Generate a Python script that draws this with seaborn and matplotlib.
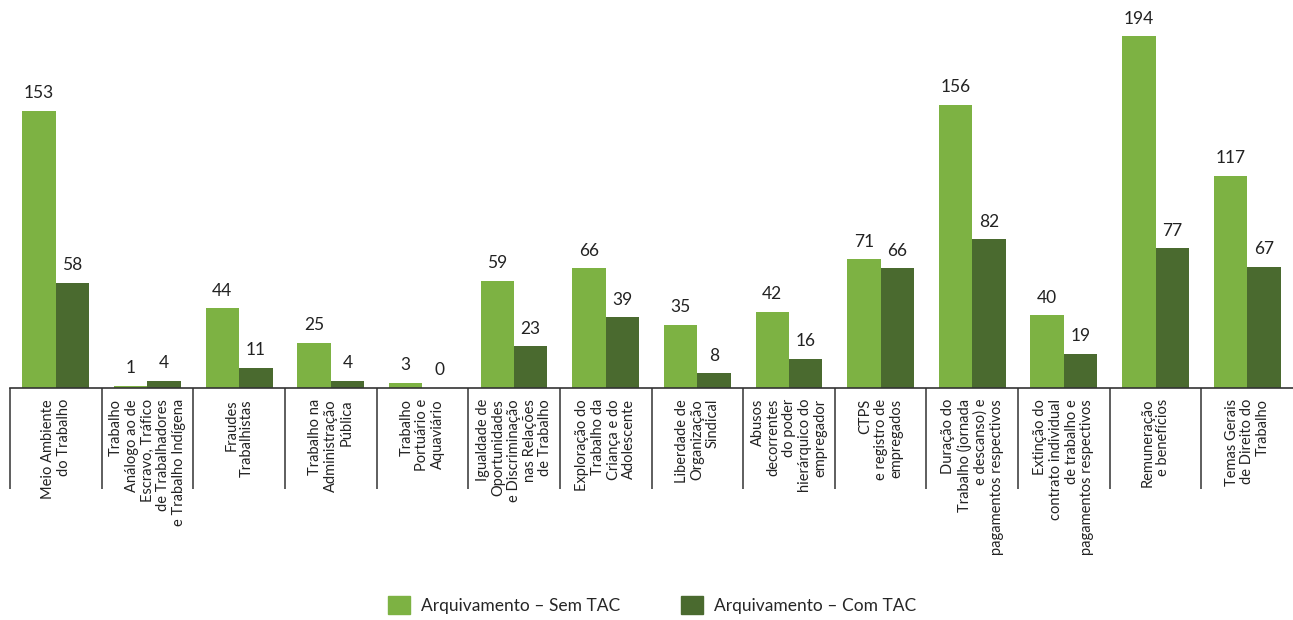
import pandas as pd
import matplotlib.pyplot as plt
import seaborn as sns

categorias = [
    "Meio Ambiente\ndo Trabalho",
    "Trabalho\nAnálogo ao de\nEscravo, Tráfico\nde Trabalhadores\ne Trabalho Indígena",
    "Fraudes\nTrabalhistas",
    "Trabalho na\nAdministração\nPública",
    "Trabalho\nPortuário e\nAquaviário",
    "Igualdade de\nOportunidades\ne Discriminação\nnas Relações\nde Trabalho",
    "Exploração do\nTrabalho da\nCriança e do\nAdolescente",
    "Liberdade de\nOrganização\nSindical",
    "Abusos\ndecorrentes\ndo poder\nhierárquico do\nempregador",
    "CTPS\ne registro de\nempregados",
    "Duração do\nTrabalho (jornada\ne descanso) e\npagamentos respectivos",
    "Extinção do\ncontrato individual\nde trabalho e\npagamentos respectivos",
    "Remuneração\ne benefícios",
    "Temas Gerais\nde Direito do\nTrabalho",
]
sem_tac = [153, 1, 44, 25, 3, 59, 66, 35, 42, 71, 156, 40, 194, 117]
com_tac = [58, 4, 11, 4, 0, 23, 39, 8, 16, 66, 82, 19, 77, 67]
series = ["Arquivamento – Sem TAC", "Arquivamento – Com TAC"]
cores = ["#7DB243", "#4A6A2F"]

df = pd.DataFrame({
    "categoria": categorias * 2,
    "valor": sem_tac + com_tac,
    "serie": [series[0]] * len(categorias) + [series[1]] * len(categorias),
})

sns.set_style("white")
plt.rcParams['font.family'] = ['Lato', 'DejaVu Sans']

fig = plt.figure(figsize=(12.93, 6.2), dpi=100)
ax = fig.add_axes([10 / 1293, 232 / 620, 1283 / 1293, 388 / 620])

sns.barplot(data=df, x="categoria", y="valor", hue="serie", palette=cores,
            width=0.73, saturation=1, linewidth=0, ax=ax, legend=False)

for cont in ax.containers:
    ax.bar_label(cont, fontsize=12.5, padding=7, color="#222222")

ax.set_ylim(0, 214)
ax.set_xlim(-0.5, 13.5)
ax.set_yticks([])
ax.set_xlabel("")
ax.set_ylabel("")
for s in ["top", "left", "right"]:
    ax.spines[s].set_visible(False)
ax.spines["bottom"].set_color("#333333")
ax.spines["bottom"].set_linewidth(1.2)

# separators between categories
ax.set_xticks([i - 0.5 for i in range(len(categorias))], minor=True)
ax.tick_params(axis="x", which="minor", length=73, width=1.1, color="#333333",
               direction="out", bottom=True)
ax.set_xticks(range(len(categorias)))
ax.set_xticklabels([])
ax.tick_params(axis="x", which="major", length=0)

for i, lab in enumerate(categorias):
    ax.text(i, -6, lab, rotation=90, ha="center", va="top", multialignment="right",
            fontsize=10.5, linespacing=1.15, color="#222222")

handles = [plt.Rectangle((0, 0), 1, 1, color=c) for c in cores]
fig.legend(handles, series, loc="center", bbox_to_anchor=(652 / 1293, 1 - 605 / 620),
           ncol=2, frameon=False, fontsize=12.5, handlelength=1.3, handleheight=1.3,
           columnspacing=3.5, handletextpad=0.6)

fig.savefig("out.png", dpi=100)
